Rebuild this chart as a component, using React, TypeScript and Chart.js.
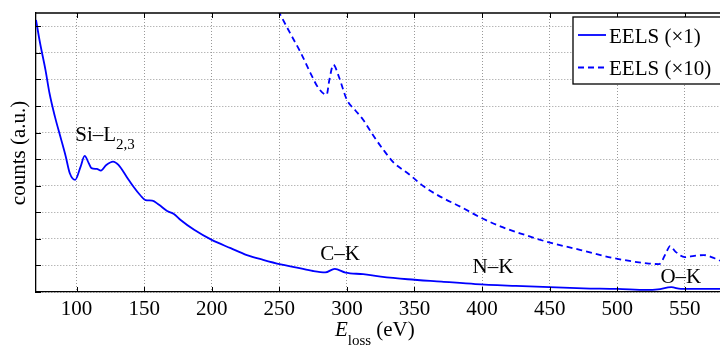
import React, { useEffect, useRef } from "react";
import { Chart, registerables } from "chart.js";

Chart.register(...registerables);

const solidE = [70, 73, 77, 80, 84, 88, 92, 95, 99, 103, 106, 109, 111, 115, 118, 122, 127, 131, 137, 142, 147, 151, 156, 161, 167, 172, 177, 187, 200, 214, 226, 238, 251, 263, 275, 284, 291, 299, 312, 325, 345, 370, 395, 425, 450, 475, 500, 522, 530, 540, 547, 570, 576];
const solidV = [10.24, 9.37, 8.36, 7.48, 6.6, 5.85, 5.1, 4.47, 4.22, 4.72, 5.12, 4.85, 4.66, 4.63, 4.57, 4.78, 4.91, 4.78, 4.34, 3.97, 3.65, 3.46, 3.44, 3.28, 3.05, 2.94, 2.71, 2.34, 1.96, 1.65, 1.39, 1.21, 1.04, 0.92, 0.79, 0.74, 0.87, 0.73, 0.67, 0.58, 0.48, 0.39, 0.3, 0.23, 0.18, 0.14, 0.12, 0.08, 0.1, 0.18, 0.12, 0.12, 0.12];

const dashE = [249, 258, 266, 273, 279, 285, 287, 290, 294, 300, 306, 312, 320, 327, 335, 345, 357, 369, 384, 399, 414, 428, 448, 473, 498, 522, 531, 536, 539, 543, 550, 557, 564, 572, 576];
const dashV = [10.6, 9.74, 8.99, 8.24, 7.67, 7.42, 7.98, 8.55, 8.11, 7.23, 6.85, 6.48, 5.85, 5.35, 4.85, 4.47, 3.97, 3.59, 3.21, 2.8, 2.46, 2.21, 1.89, 1.58, 1.27, 1.08, 1.05, 1.46, 1.73, 1.52, 1.31, 1.36, 1.39, 1.27, 1.18];

const xTicks = [100, 150, 200, 250, 300, 350, 400, 450, 500, 550];
const yTicks = [0, 1, 2, 3, 4, 5, 6, 7, 8, 9, 10];

const seriesNames = ["EELS (\u00d71)", "EELS (\u00d710)"];
const annotations = [
  { text: "Si\u2013L", sub: "2,3", x: 99, y: 5.69, align: "left" },
  { text: "C\u2013K", sub: "", x: 295, y: 1.2, align: "center" },
  { text: "N\u2013K", sub: "", x: 408, y: 0.72, align: "center" },
  { text: "O\u2013K", sub: "", x: 547, y: 0.34, align: "center" },
];

const FONT = '"Liberation Serif", "Times New Roman", Times, serif';
const BLUE = "#0000ff";

const overlay = {
  id: "overlay",
  afterDraw(chart: any) {
    const ctx = chart.ctx;
    const { left, right, top, bottom } = chart.chartArea;
    const xs = chart.scales.x;
    const ys = chart.scales.y;
    ctx.save();
    ctx.strokeStyle = "#000";
    ctx.lineWidth = 1.3;
    ctx.beginPath();
    ctx.moveTo(left, top);
    ctx.lineTo(right + 2, top);
    ctx.stroke();
    ctx.lineWidth = 1;
    ctx.beginPath();
    xTicks.forEach((v) => {
      const px = Math.round(xs.getPixelForValue(v)) + 0.5;
      ctx.moveTo(px, bottom);
      ctx.lineTo(px, bottom - 5);
      ctx.moveTo(px, top);
      ctx.lineTo(px, top + 5);
    });
    yTicks.forEach((v) => {
      const py = Math.round(ys.getPixelForValue(v)) + 0.5;
      ctx.moveTo(left, py);
      ctx.lineTo(left + 5, py);
    });
    ctx.stroke();

    ctx.fillStyle = "#000";
    ctx.textBaseline = "alphabetic";
    annotations.forEach((a) => {
      const px = xs.getPixelForValue(a.x);
      const py = ys.getPixelForValue(a.y);
      ctx.font = `21px ${FONT}`;
      const w = ctx.measureText(a.text).width;
      ctx.font = `15px ${FONT}`;
      const ws = a.sub ? ctx.measureText(a.sub).width : 0;
      let x0 = px;
      if (a.align === "center") x0 = px - (w + ws) / 2;
      ctx.textAlign = "left";
      ctx.font = `21px ${FONT}`;
      ctx.fillText(a.text, x0, py);
      if (a.sub) {
        ctx.font = `15px ${FONT}`;
        ctx.fillText(a.sub, x0 + w, py + 8);
      }
    });

    ctx.save();
    ctx.translate(19, 153);
    ctx.rotate(-Math.PI / 2);
    ctx.font = `21px ${FONT}`;
    ctx.textAlign = "center";
    ctx.textBaseline = "middle";
    ctx.fillText("counts (a.u.)", 0, 0);
    ctx.restore();

    ctx.textAlign = "left";
    ctx.textBaseline = "alphabetic";
    ctx.font = `italic 21px ${FONT}`;
    const ex = 335;
    ctx.fillText("E", ex, 336);
    const we = ctx.measureText("E").width;
    ctx.font = `15px ${FONT}`;
    ctx.fillText("loss", ex + we, 345);
    const wl = ctx.measureText("loss").width;
    ctx.font = `21px ${FONT}`;
    ctx.fillText("(eV)", ex + we + wl + 5, 336);

    const lx = 573, ly = 17, lh = 67;
    ctx.fillStyle = "#fff";
    ctx.fillRect(lx, ly, right + 10 - lx, lh);
    ctx.strokeStyle = "#000";
    ctx.lineWidth = 1.3;
    ctx.strokeRect(lx, ly, right + 10 - lx, lh);
    const rows = [35, 67.5];
    rows.forEach((ry, i) => {
      ctx.strokeStyle = BLUE;
      ctx.lineWidth = 1.8;
      ctx.setLineDash(i === 1 ? [6, 4] : []);
      ctx.beginPath();
      ctx.moveTo(578, ry);
      ctx.lineTo(606, ry);
      ctx.stroke();
      ctx.setLineDash([]);
      ctx.fillStyle = "#000";
      ctx.font = `21px ${FONT}`;
      ctx.textBaseline = "middle";
      ctx.fillText(seriesNames[i], 609, ry + 2);
    });
    ctx.restore();
  },
};

export default function App() {
  const ref = useRef<HTMLCanvasElement | null>(null);
  useEffect(() => {
    let chart: any = null;
    let cancelled = false;
    const build = () => {
      if (cancelled || !ref.current) return;
      chart = new Chart(ref.current, {
        type: "line",
        data: {
          datasets: [
            {
              label: seriesNames[0],
              data: solidE.map((e, i) => ({ x: e, y: solidV[i] })),
              borderColor: BLUE,
              borderWidth: 1.8,
              pointRadius: 0,
              cubicInterpolationMode: "monotone",
            },
            {
              label: seriesNames[1],
              data: dashE.map((e, i) => ({ x: e, y: dashV[i] })),
              borderColor: BLUE,
              borderWidth: 1.8,
              borderDash: [6, 4],
              pointRadius: 0,
              cubicInterpolationMode: "monotone",
            },
          ],
        },
        options: {
          animation: false,
          responsive: false,
          maintainAspectRatio: false,
          layout: { padding: { top: 13, right: 0, left: 0, bottom: 0 } },
          plugins: { legend: { display: false }, tooltip: { enabled: false } },
          scales: {
            x: {
              type: "linear",
              min: 70,
              max: 576,
              afterBuildTicks: (axis: any) => {
                axis.ticks = xTicks.map((v) => ({ value: v }));
              },
              afterFit: (scale: any) => {
                scale.height = 53;
              },
              grid: { color: "#999", lineWidth: 1, drawTicks: false },
              border: { color: "#000", width: 1.3, dash: [1, 2] },
              ticks: {
                color: "#000",
                font: { family: FONT, size: 21 },
                padding: 5,
                maxRotation: 0,
                autoSkip: false,
              },
            },
            y: {
              type: "linear",
              min: 0,
              max: 10.5,
              afterBuildTicks: (axis: any) => {
                axis.ticks = yTicks.map((v) => ({ value: v }));
              },
              afterFit: (scale: any) => {
                scale.width = 36;
              },
              grid: { color: "#999", lineWidth: 1, drawTicks: false },
              border: { color: "#000", width: 1.3, dash: [1, 2] },
              ticks: { display: false },
            },
          },
        },
        plugins: [overlay],
      });
    };
    const fonts: any = (document as any).fonts;
    if (fonts && fonts.load) {
      Promise.all([
        fonts.load('21px "Liberation Serif"'),
        fonts.load('italic 21px "Liberation Serif"'),
      ]).then(build, build);
    } else {
      build();
    }
    return () => {
      cancelled = true;
      if (chart) chart.destroy();
    };
  }, []);
  return (
    <div style={{ position: "fixed", left: 0, top: 0, width: 720, height: 345, background: "#fff" }}>
      <canvas ref={ref} width={720} height={345} style={{ width: 720, height: 345, display: "block" }} />
    </div>
  );
}
